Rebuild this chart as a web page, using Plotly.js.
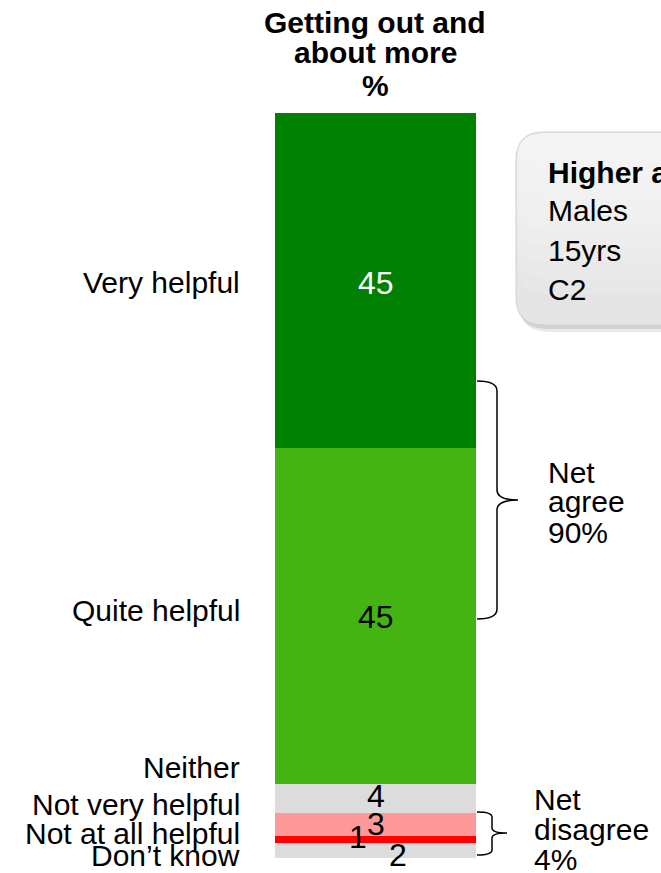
<!DOCTYPE html>
<html>
<head>
<meta charset="utf-8">
<script src="https://cdn.plot.ly/plotly-3.0.1.min.js"></script>
<style>html,body{margin:0;padding:0;background:#fff;}#chart{width:661px;height:873px;}</style>
</head>
<body>
<div id="chart"></div>
<script>
// ---- data ----
const categories = ["Don\u2019t know", "Not at all helpful", "Not very helpful", "Neither", "Quite helpful", "Very helpful"];
const values = [2, 1, 3, 4, 45, 45];
const colors = ["#DCDCDC", "#FF0000", "#FF9999", "#DCDCDC", "#43B412", "#008000"];
const valueFontColors = ["#000", "#000", "#000", "#000", "#000", "#fff"];
const barLabel = ["Getting out and", "about more", "%"];
const netAgreeText = ["Net", "agree", "90%"];
const netDisagreeText = ["Net", "disagree", "4%"];
const calloutTitle = "Higher among";
const calloutItems = ["Males", "15yrs", "C2"];

// ---- layout helpers (pixel -> paper) ----
const W = 661, H = 873, L = 275, R = 185, T = 113, B = 15;
const pw = W - L - R, ph = H - T - B;
const px = x => (x - L) / pw;
const py = y => (H - B - y) / ph;
const FONT = "Liberation Sans, Arial, sans-serif";
const FS = 30;

// left label positions (pixel y) and value-label pixel offsets
const leftLabelY = [856, 834, 805, 768, 611, 283];
const valueShift = [[22, -4], [-18, 2], [0, 0], [0, 2], [0, -1], [0, -2]];

const traces = categories.map((c, i) => ({
  type: "bar", x: [0], y: [values[i]], name: c,
  marker: {color: colors[i], line: {width: 0}}, width: 1,
  hoverinfo: "skip", showlegend: false
}));

const annotations = [];
let cum = 0;
categories.forEach((c, i) => {
  const mid = cum + values[i] / 2;
  cum += values[i];
  annotations.push({xref: "x", yref: "y", x: 0, y: mid, text: String(values[i]), showarrow: false,
    xshift: valueShift[i][0], yshift: valueShift[i][1],
    font: {family: FONT, size: 32, color: valueFontColors[i]}});
  annotations.push({xref: "paper", yref: "paper", x: 0, y: py(leftLabelY[i] - 1), xanchor: "right", yanchor: "middle",
    xshift: -33, text: c, showarrow: false, font: {family: FONT, size: FS, color: "#000"}});
});

// title lines
[23, 53, 85].forEach((yy, i) => annotations.push({xref: "paper", yref: "paper", x: px(375), y: py(yy),
  xanchor: "center", yanchor: "middle", text: "<b>" + barLabel[i] + "</b>", showarrow: false,
  font: {family: FONT, size: 30, color: "#000"}}));

// net texts
[472, 502, 532].forEach((yy, i) => annotations.push({xref: "paper", yref: "paper", x: px(546), y: py(yy),
  xanchor: "left", yanchor: "middle", text: netAgreeText[i], showarrow: false,
  font: {family: FONT, size: FS, color: "#000"}}));
[799, 829, 859].forEach((yy, i) => annotations.push({xref: "paper", yref: "paper", x: px(532), y: py(yy),
  xanchor: "left", yanchor: "middle", text: netDisagreeText[i], showarrow: false,
  font: {family: FONT, size: FS, color: "#000"}}));

// callout texts
annotations.push({xref: "paper", yref: "paper", x: px(546), y: py(172), xanchor: "left", yanchor: "middle",
  text: "<b>" + calloutTitle + "</b>", showarrow: false, font: {family: FONT, size: FS, color: "#000"}});
[211, 250, 289].forEach((yy, i) => annotations.push({xref: "paper", yref: "paper", x: px(546), y: py(yy),
  xanchor: "left", yanchor: "middle", text: calloutItems[i], showarrow: false,
  font: {family: FONT, size: FS, color: "#000"}}));

function brace(xl, xv, xt, yt, ym, yb, r) {
  const P = (x, y) => px(x) + "," + py(y);
  return "M" + P(xl, yt) + " Q" + P(xv, yt) + " " + P(xv, yt + r) +
    " L" + P(xv, ym - r) + " Q" + P(xv, ym) + " " + P(xt, ym) +
    " Q" + P(xv, ym) + " " + P(xv, ym + r) +
    " L" + P(xv, yb - r) + " Q" + P(xv, yb) + " " + P(xl, yb);
}
function rrect(x0, y0, x1, y1, r) {
  const P = (x, y) => px(x) + "," + py(y);
  return "M" + P(x0 + r, y0) + " L" + P(x1, y0) + " L" + P(x1, y1) + " L" + P(x0 + r, y1) +
    " Q" + P(x0, y1) + " " + P(x0, y1 - r) + " L" + P(x0, y0 + r) + " Q" + P(x0, y0) + " " + P(x0 + r, y0) + " Z";
}

const shapes = [
  {type: "path", xref: "paper", yref: "paper", path: rrect(520, 140, 690, 332, 28), fillcolor: "rgba(0,0,0,0.08)", line: {width: 0}},
  {type: "path", xref: "paper", yref: "paper", path: rrect(518, 136, 690, 329, 28), fillcolor: "rgba(0,0,0,0.10)", line: {width: 0}},
  {type: "path", xref: "paper", yref: "paper", path: rrect(516, 132, 690, 325, 28), fillcolor: "#E4E4E4", line: {color: "#D0D0D0", width: 1}}
];
// soft vertical gradient inside the callout (lighter at top)
for (let k = 0; k < 10; k++) {
  shapes.push({type: "path", xref: "paper", yref: "paper",
    path: rrect(517, 133, 690, 150 + k * 16, 27), fillcolor: "rgba(255,255,255,0.11)", line: {width: 0}});
}
shapes.push({type: "path", xref: "paper", yref: "paper", path: brace(477, 497, 518, 381, 500, 619, 10), line: {color: "#000", width: 1.5}});
shapes.push({type: "path", xref: "paper", yref: "paper", path: brace(477, 492, 507, 812, 833, 855, 5), line: {color: "#000", width: 1.5}});

const layout = {
  width: W, height: H, barmode: "stack", bargap: 0,
  margin: {l: L, r: R, t: T, b: B, pad: 0},
  paper_bgcolor: "#fff", plot_bgcolor: "#fff",
  xaxis: {range: [-0.5, 0.5], visible: false, fixedrange: true},
  yaxis: {range: [0, 100], visible: false, fixedrange: true},
  annotations: annotations, shapes: shapes, showlegend: false
};

Plotly.newPlot("chart", traces, layout, {staticPlot: true, displayModeBar: false});
</script>
</body>
</html>
